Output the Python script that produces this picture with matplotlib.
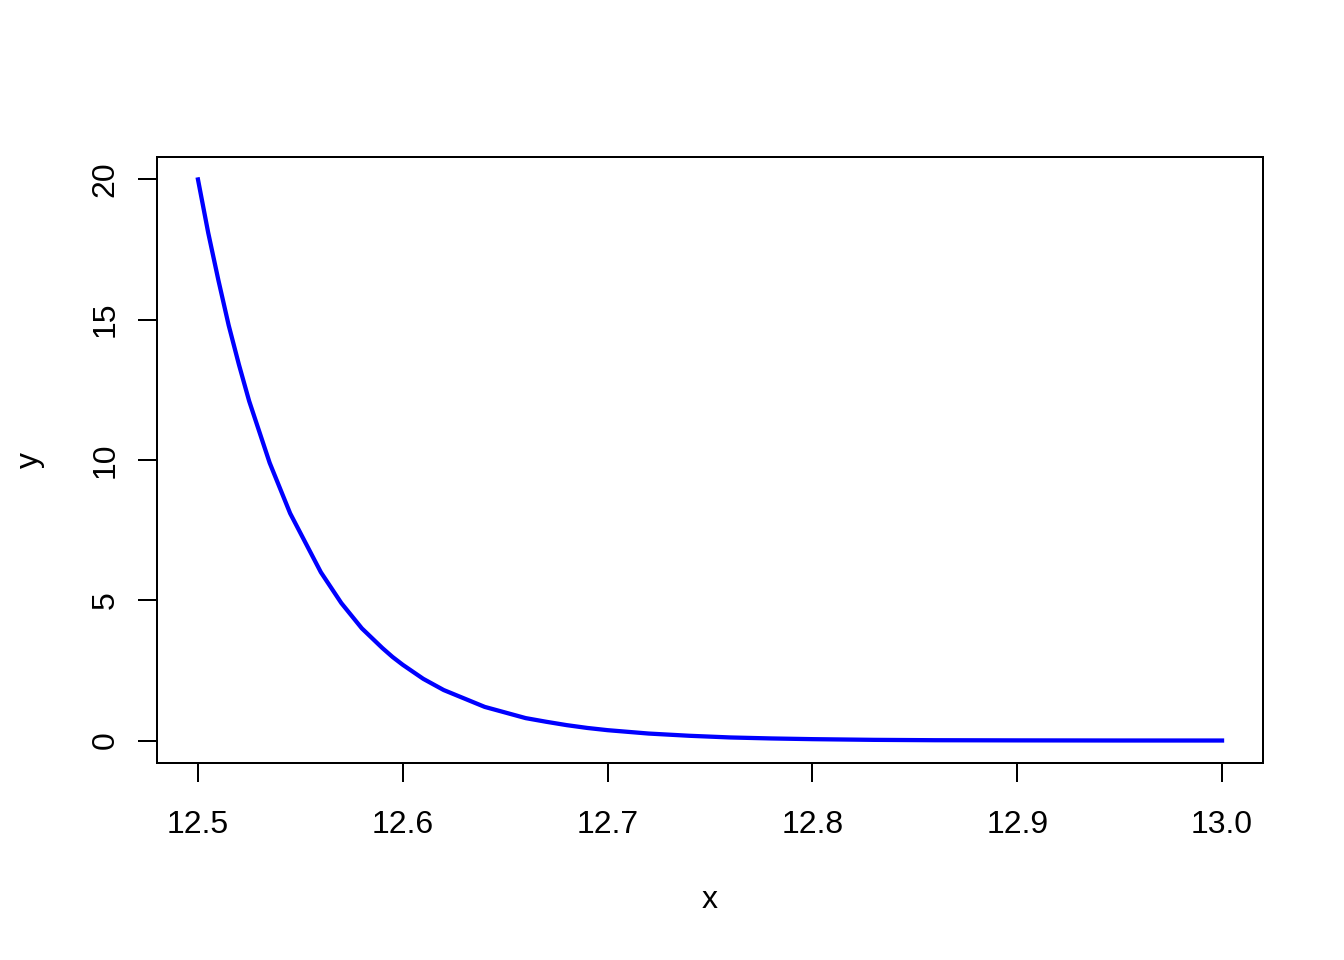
import matplotlib
matplotlib.use("Agg")
import matplotlib.pyplot as plt

plt.rcParams['font.family'] = ['Liberation Sans', 'DejaVu Sans']

x_vals = [12.500, 12.505, 12.510, 12.515, 12.520, 12.525, 12.530, 12.535, 12.540, 12.545,
          12.550, 12.555, 12.560, 12.565, 12.570, 12.575, 12.580, 12.585, 12.590, 12.595,
          12.600, 12.610, 12.620, 12.630, 12.640, 12.650, 12.660, 12.670, 12.680, 12.690,
          12.700, 12.720, 12.740, 12.760, 12.780, 12.800, 12.830, 12.860, 12.900, 12.950, 13.000]
y_vals = [20.0, 18.1, 16.4, 14.8, 13.4, 12.1, 11.0, 9.9, 9.0, 8.1,
          7.4, 6.7, 6.0, 5.45, 4.9, 4.45, 4.0, 3.65, 3.3, 2.98,
          2.7, 2.2, 1.8, 1.5, 1.2, 1.0, 0.8, 0.67, 0.55, 0.45,
          0.37, 0.25, 0.17, 0.11, 0.075, 0.05, 0.025, 0.012, 0.006, 0.002, 0.001]
x_ticks = [12.5, 12.6, 12.7, 12.8, 12.9, 13.0]
x_tick_labels = ["12.5", "12.6", "12.7", "12.8", "12.9", "13.0"]
y_ticks = [0, 5, 10, 15, 20]

fig = plt.figure(figsize=(7, 5), dpi=192)
ax = fig.add_axes([157/1344, 1 - 763/960, (1263-157)/1344, (763-157)/960])
ax.plot(x_vals, y_vals, color='blue', linewidth=1.6)
ax.set_xlim(12.48, 13.02)
ax.set_ylim(-0.8, 20.8)
ax.set_xticks(x_ticks)
ax.set_xticklabels(x_tick_labels)
ax.set_yticks(y_ticks)
ax.set_yticklabels([str(v) for v in y_ticks], rotation=90, va='center')
ax.tick_params(direction='out', length=7.2, width=0.75, labelsize=12)
ax.tick_params(axis='x', pad=10.5)
ax.tick_params(axis='y', pad=6.5)
for s in ax.spines.values():
    s.set_linewidth(0.75)
ax.set_xlabel("x", fontsize=12)
ax.set_ylabel("y", fontsize=12)
ax.xaxis.set_label_coords(0.5, (763 - 900) / 606)
ax.xaxis.label.set_va('center')
ax.yaxis.set_label_coords((30 - 157) / 1106, 0.5)
ax.yaxis.label.set_va('center')
fig.savefig("out.png", dpi=192)
